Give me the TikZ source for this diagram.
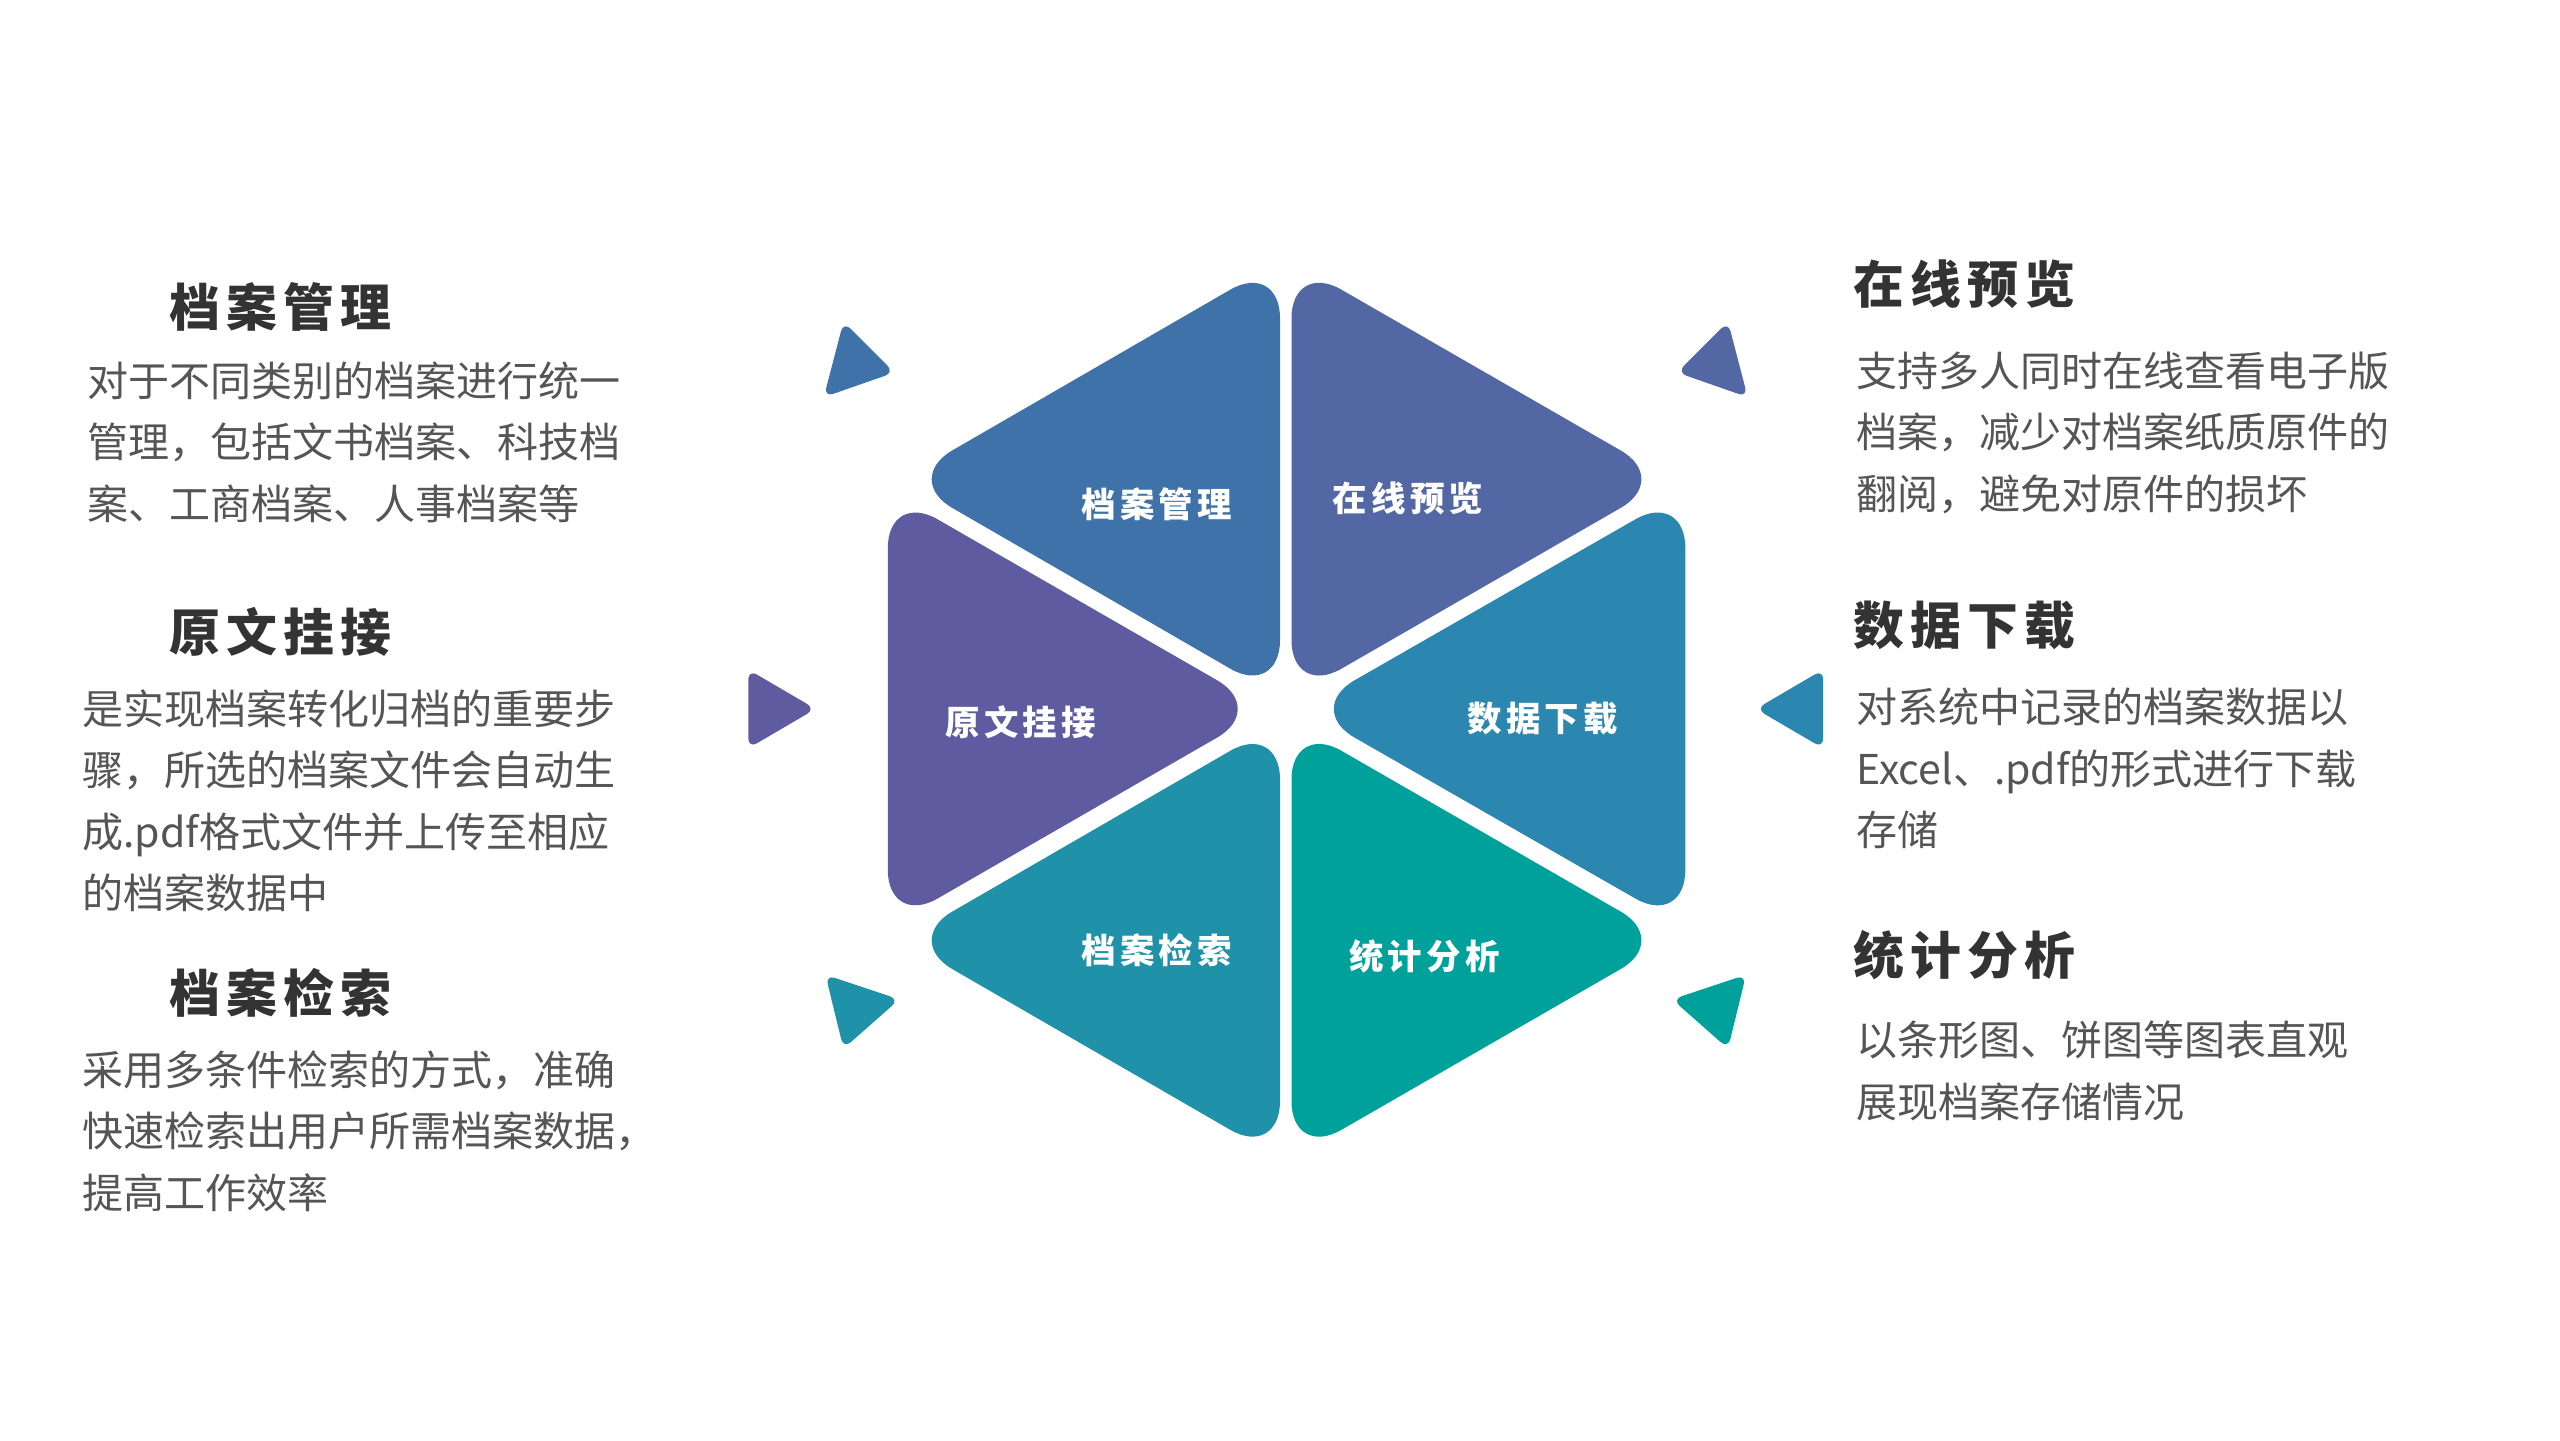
\documentclass[tikz,border=0pt]{standalone}
\usepackage{fontspec}
\setmainfont{Noto Sans CJK SC}
\newfontfamily\ttl[LetterSpace=12]{Noto Sans CJK SC}
\definecolor{cA}{HTML}{3F72A8}
\definecolor{cB}{HTML}{5267A3}
\definecolor{cC}{HTML}{5E5BA0}
\definecolor{cD}{HTML}{2B86B0}
\definecolor{cE}{HTML}{1F92A9}
\definecolor{cF}{HTML}{00A19B}
\definecolor{tt}{HTML}{333333}
\definecolor{bd}{HTML}{555555}
\tikzset{
 tri/.style={fill=#1,draw=none,rounded corners=35pt},
 mk/.style={fill=#1,draw=none,rounded corners=6pt},
 lab/.style={text=white,font=\ttl\bfseries\fontsize{21}{24}\selectfont},
 head/.style={anchor=west,text=tt,font=\ttl\bfseries\fontsize{31}{36}\selectfont},
 body/.style={anchor=north west,text=bd,align=left,font=\fontsize{25}{37.5}\selectfont,inner sep=0pt}
}
\begin{document}
\begin{tikzpicture}[x=1pt,y=-1pt]
\useasboundingbox (0,0) rectangle (1560,878);
\fill[tri=cA] (550,292)--(780,159)--(780,425)--cycle;
\fill[tri=cB] (787,159)--(1018,292)--(787,425)--cycle;
\fill[tri=cC] (541,299)--(772,432)--(541,565)--cycle;
\fill[tri=cD] (1027,299)--(1027,565)--(795,432)--cycle;
\fill[tri=cE] (780,440)--(780,706)--(550,573)--cycle;
\fill[tri=cF] (787,440)--(1018,573)--(787,706)--cycle;
\node[lab] (t1) at (705,307) {档案管理};
\node[lab] (t2) at (858,304) {在线预览};
\node[lab] (t3) at (622,440) {原文挂接};
\node[lab] (t4) at (940,438) {数据下载};
\node[lab] (t5) at (705,579) {档案检索};
\node[lab] (t6) at (868,583) {统计分析};
\fill[mk=cA] (514,196)--(545,227)--(502,242)--cycle;
\fill[mk=cB] (1053,196)--(1065,242)--(1022,227)--cycle;
\fill[mk=cC] (456,408)--(497,432)--(456,456)--cycle;
\fill[mk=cD] (1111,408)--(1111,456)--(1070,432)--cycle;
\fill[mk=cE] (503,594)--(548,609)--(514,639)--cycle;
\fill[mk=cF] (1064,594)--(1053,639)--(1019,609)--cycle;
\node[head] (h1) at (100,187) {档案管理};
\node[body] (b1) at (53,220) {对于不同类别的档案进行统一\\管理，包括文书档案、科技档\\案、工商档案、人事档案等};
\node[head] (h2) at (100,385) {原文挂接};
\node[body] (b2) at (50,420) {是实现档案转化归档的重要步\\骤，所选的档案文件会自动生\\成.pdf格式文件并上传至相应\\的档案数据中};
\node[head] (h3) at (100,605) {档案检索};
\node[body] (b3) at (50,640) {采用多条件检索的方式，准确\\快速检索出用户所需档案数据，\\提高工作效率};
\node[head] (h4) at (1126,173) {在线预览};
\node[body] (b4) at (1131,214) {支持多人同时在线查看电子版\\档案，减少对档案纸质原件的\\翻阅，避免对原件的损坏};
\node[head] (h5) at (1126,381) {数据下载};
\node[body] (b5) at (1131,419) {对系统中记录的档案数据以\\Excel、.pdf的形式进行下载\\存储};
\node[head] (h6) at (1126,582) {统计分析};
\node[body] (b6) at (1131,622) {以条形图、饼图等图表直观\\展现档案存储情况};
\end{tikzpicture}
\end{document}
